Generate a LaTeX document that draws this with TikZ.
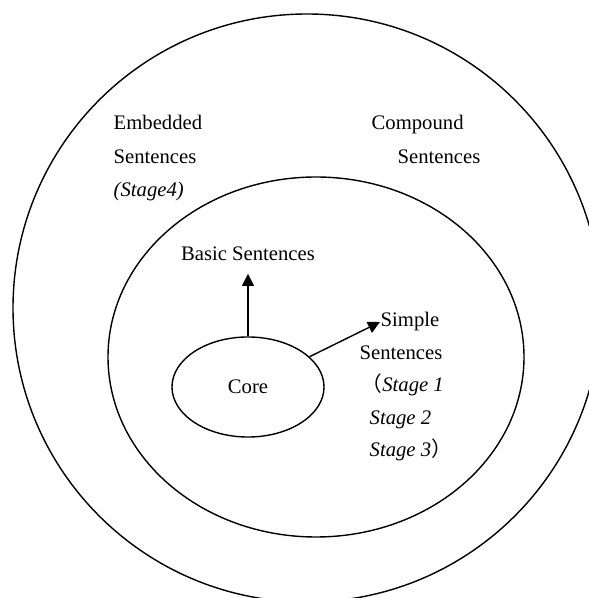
\documentclass[tikz,border=0pt]{standalone}
\usepackage{fontspec}
\setmainfont{Liberation Serif}
\newfontfamily\cjk{Noto Sans CJK SC}
\usetikzlibrary{shapes.geometric,arrows.meta}

\tikzset{
  lbl/.style={anchor=base west,inner sep=0pt,font=\fontsize{14.7}{17}\selectfont},
  arr/.style={-{Triangle[length=0.3cm,width=0.3cm]},line width=1pt}
}

\begin{document}
\begin{tikzpicture}[x=0.025cm,y=0.025cm,line width=1pt]
  %\draw[help lines,step=50] (0,0) grid (589,598);
  \useasboundingbox (0,0) rectangle (589,598);
  \clip (0,0) rectangle (589,598);

  \draw (307,290) circle [radius=294];
  \draw (316,241) ellipse [x radius=208,y radius=180];

  \node[draw,ellipse,inner sep=0pt,minimum width=3.8cm,minimum height=2.5cm,
    font=\fontsize{14.7}{17}\selectfont] (core) at (248,211) {Core};

  \foreach \x/\y/\n/\t in {113/468/emb1/Embedded, 113/434/emb2/Sentences, 113/401/emb3/{\itshape (Stage4)},
    371/468/comp1/Compound, 397/434/comp2/Sentences, 380/271/simple1/Simple, 359/238/simple2/Sentences,
    361/206/st1/{{\cjk （}\itshape Stage 1}, 369/173/st2/{\itshape Stage 2}, 369/141/st3/{\itshape Stage 3{\cjk ）}}}
    \node[lbl] (\n) at (\x,\y) {\t};
  \node[lbl,anchor=base] (basic) at (248,337) {Basic Sentences};

  \draw[arr] (core) -- (simple1.west);
  \draw[arr,shorten >=0.3cm] (core) -- (basic.south);
\end{tikzpicture}
\end{document}
